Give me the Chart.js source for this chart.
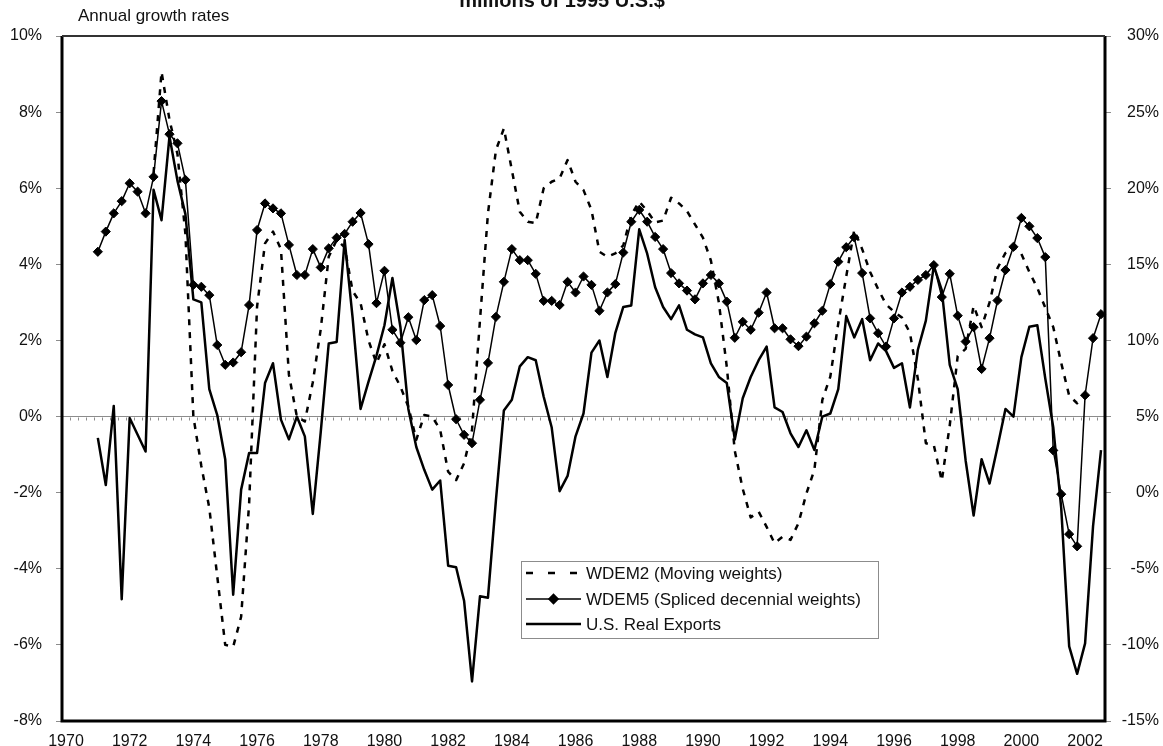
<!DOCTYPE html>
<html>
<head>
<meta charset="utf-8">
<script src="https://cdn.jsdelivr.net/npm/chart.js@4.4.1/dist/chart.umd.min.js"></script>
<style>
  html, body { margin: 0; padding: 0; background: #fff; }
</style>
</head>
<body>
<canvas id="growthChart" width="1163" height="746"></canvas>
<script>
// Quarterly categories, 1970 Q1 .. 2002 Q3
const quarters = [];
for (let y = 1970; y <= 2002; y++) {
    for (let q = 1; q <= 4; q++) {
        if (y === 2002 && q > 3) break;
        quarters.push(y + ' Q' + q);
    }
}

// WDEM2 (moving weights), annual growth %, left axis
const wdem2 = [
    null, null, null, null, null, null, null, null,          // 1970-71
    null, null, null, 6.4, 9.06, 7.8, 6.9, 4.8,              // 1972-73
    0.0, -1.3, -2.4, -4.2, -6.0, -6.05, -5.26, -2.3,         // 1974-75
    2.89, 4.55, 4.86, 4.4, 1.1, 0.0, -0.13, 0.9,             // 1976-77
    2.3, 4.2, 4.64, 4.45, 3.3, 2.98, 2.0, 1.4,               // 1978-79
    1.9, 1.2, 0.79, 0.26, -0.61, 0.04, 0.0, -0.35,           // 1980-81
    -1.45, -1.67, -1.23, -0.35, 2.54, 5.34, 7.0, 7.57,       // 1982-83
    6.48, 5.38, 5.12, 5.08, 6.0, 6.17, 6.26, 6.74,           // 1984-85
    6.17, 5.95, 5.43, 4.33, 4.2, 4.29, 4.5, 5.3,             // 1986-87
    5.65, 5.4, 5.1, 5.15, 5.75, 5.6, 5.4, 5.05,              // 1988-89
    4.7, 4.1, 3.0, 1.3, -0.9, -1.9, -2.65, -2.5,             // 1990-91
    -2.9, -3.33, -3.16, -3.24, -2.8, -2.02, -1.4, 0.44,      // 1992-93
    1.05, 2.45, 3.68, 4.9, 4.4, 3.8, 3.35, 2.95,             // 1994-95
    2.75, 2.6, 2.2, 0.98, -0.7, -0.75, -1.69, -0.23,         // 1996-97
    1.59, 1.78, 2.91, 2.35, 3.0, 3.9, 4.3, 4.46,             // 1998-99
    4.27, 3.8, 3.38, 2.86, 2.35, 1.41, 0.55, 0.35,           // 2000-01
    0.5, null, null                                          // 2002
];

// WDEM5 (spliced decennial weights), annual growth %, left axis
const wdem5 = [
    null, null, null, null, 4.33, 4.86, 5.34, 5.66,
    6.13, 5.91, 5.34, 6.30, 8.29, 7.42, 7.18, 6.22,
    3.46, 3.41, 3.19, 1.88, 1.36, 1.42, 1.69, 2.93,
    4.90, 5.60, 5.47, 5.34, 4.51, 3.72, 3.72, 4.40,
    3.92, 4.42, 4.70, 4.80, 5.12, 5.35, 4.53, 2.98,
    3.83, 2.28, 1.94, 2.61, 2.01, 3.06, 3.19, 2.38,
    0.83, -0.07, -0.48, -0.70, 0.44, 1.41, 2.62, 3.54,
    4.40, 4.11, 4.11, 3.75, 3.04, 3.04, 2.93, 3.54,
    3.26, 3.68, 3.46, 2.78, 3.26, 3.48, 4.31, 5.12,
    5.43, 5.12, 4.72, 4.40, 3.77, 3.50, 3.31, 3.08,
    3.50, 3.72, 3.50, 3.02, 2.07, 2.49, 2.28, 2.73,
    3.26, 2.32, 2.32, 2.03, 1.85, 2.10, 2.45, 2.78,
    3.48, 4.07, 4.45, 4.71, 3.77, 2.58, 2.19, 1.84,
    2.58, 3.26, 3.41, 3.59, 3.72, 3.98, 3.14, 3.75,
    2.65, 1.97, 2.35, 1.25, 2.06, 3.05, 3.85, 4.46,
    5.22, 5.00, 4.69, 4.19, -0.89, -2.04, -3.09, -3.41,
    0.56, 2.06, 2.69
];

// U.S. real exports, annual growth %, right axis
const usExports = [
    null, null, null, null, 3.6, 0.5, 5.7, -7.0,
    4.9, 3.8, 2.7, 19.9, 17.9, 23.4, 20.5, 18.3,
    12.7, 12.5, 6.8, 5.1, 2.2, -6.7, 0.2, 2.6,
    2.6, 7.2, 8.5, 4.8, 3.5, 5.0, 3.7, -1.4,
    4.0, 9.8, 9.9, 16.6, 11.5, 5.5, 7.3, 9.0,
    11.0, 14.1, 10.9, 5.5, 3.0, 1.5, 0.2, 0.8,
    -4.8, -4.9, -7.1, -12.4, -6.8, -6.9, -0.5, 5.4,
    6.1, 8.3, 8.9, 8.7, 6.3, 4.3, 0.1, 1.1,
    3.7, 5.2, 9.2, 10.0, 7.6, 10.5, 12.2, 12.3,
    17.3, 15.7, 13.5, 12.2, 11.4, 12.3, 10.7, 10.4,
    10.2, 8.5, 7.6, 7.2, 3.5, 6.2, 7.6, 8.7,
    9.6, 5.6, 5.3, 3.9, 3.0, 4.1, 2.8, 5.0,
    5.2, 6.8, 11.6, 10.2, 11.4, 8.7, 9.8, 9.3,
    8.2, 8.5, 5.6, 9.4, 11.3, 14.9, 13.3, 8.4,
    6.8, 2.1, -1.5, 2.2, 0.6, 3.0, 5.5, 5.0,
    8.9, 10.9, 11.0, 7.5, 4.3, -1.0, -10.1, -11.9,
    -9.9, -2.2, 2.8
];

const seriesLabels = ['WDEM2 (Moving weights)', 'WDEM5 (Spliced decennial weights)', 'U.S. Real Exports'];

const FONT = "'Liberation Sans', Arial, sans-serif";
const INK = '#111';

// frame, zero-line ticks, notes and the boxed legend
const decorations = {
    id: 'decorations',
    beforeDatasetsDraw(chart) {
        const { ctx, scales } = chart;
        const xs = scales.x;
        const y0 = Math.round(scales.y.getPixelForValue(0)) + 0.5;
        const half = (xs.getPixelForValue(1) - xs.getPixelForValue(0)) / 2;
        ctx.save();
        ctx.strokeStyle = '#8c8c8c';
        ctx.lineWidth = 1;
        ctx.beginPath();
        for (let i = 0; i <= quarters.length; i++) {
            const x = Math.round(xs.getPixelForValue(i) - half) + 0.5;
            ctx.moveTo(x, y0);
            ctx.lineTo(x, y0 + 3);
        }
        ctx.stroke();
        ctx.restore();
    },
    afterDatasetsDraw(chart) {
        const { ctx, chartArea: a } = chart;
        ctx.save();
        ctx.strokeStyle = '#000';
        ctx.lineWidth = 3;
        ctx.beginPath();
        ctx.moveTo(a.left, a.top);
        ctx.lineTo(a.left, a.bottom);
        ctx.lineTo(a.right, a.bottom);
        ctx.lineTo(a.right, a.top);
        ctx.stroke();
        ctx.strokeStyle = '#333';
        ctx.lineWidth = 2;
        ctx.beginPath();
        ctx.moveTo(a.left, a.top);
        ctx.lineTo(a.right, a.top);
        ctx.stroke();
        ctx.restore();
    },
    afterDraw(chart) {
        const { ctx, chartArea: a } = chart;
        ctx.save();
        ctx.fillStyle = INK;
        ctx.textBaseline = 'alphabetic';

        // cut-off title at the very top
        ctx.font = 'bold 20px ' + FONT;
        ctx.textAlign = 'center';
        ctx.fillText('millions of 1995 U.S.$', 562, 7);

        // left axis note
        ctx.font = '17px ' + FONT;
        ctx.textAlign = 'left';
        ctx.fillText('Annual growth rates', a.left + 16, 21);

        // legend box
        const box = { left: 521, top: 561, width: 357, height: 77 };
        ctx.fillStyle = '#fff';
        ctx.fillRect(box.left, box.top, box.width, box.height);
        ctx.strokeStyle = '#8c8c8c';
        ctx.lineWidth = 1;
        ctx.strokeRect(box.left + 0.5, box.top + 0.5, box.width, box.height);

        const rows = [573, 599, 624];
        const x0 = box.left + 5, x1 = box.left + 60;
        chart.data.datasets.forEach((ds, i) => {
            const y = rows[i];
            ctx.strokeStyle = '#000';
            ctx.lineWidth = ds.borderWidth;
            ctx.setLineDash(i === 0 ? [7, 15] : []);
            ctx.beginPath();
            ctx.moveTo(x0, y);
            ctx.lineTo(x1, y);
            ctx.stroke();
            ctx.setLineDash([]);
            if (ds.pointRadius > 0) {
                Chart.helpers.drawPoint(ctx, {
                    pointStyle: ds.pointStyle, radius: ds.pointRadius, borderWidth: 1
                }, (x0 + x1) / 2, y);
                ctx.fillStyle = '#000';
                ctx.fill();
            }
            ctx.fillStyle = INK;
            ctx.font = '17px ' + FONT;
            ctx.textAlign = 'left';
            ctx.textBaseline = 'middle';
            ctx.fillText(ds.label, x1 + 5, y + 1);
        });
        ctx.restore();
    }
};

const ctx = document.getElementById('growthChart').getContext('2d');
new Chart(ctx, {
    type: 'line',
    data: {
        labels: quarters,
        datasets: [
            {
                label: seriesLabels[0],
                data: wdem2,
                yAxisID: 'y',
                borderColor: '#000',
                borderWidth: 2.5,
                borderDash: [6, 7],
                pointRadius: 0,
                borderJoinStyle: 'round',
            },
            {
                label: seriesLabels[1],
                data: wdem5,
                yAxisID: 'y',
                borderColor: '#000',
                borderWidth: 1.5,
                pointStyle: 'rectRot',
                pointRadius: 4.6,
                pointBorderWidth: 1,
                pointBackgroundColor: '#000',
                pointBorderColor: '#000',
                borderJoinStyle: 'round',
            },
            {
                label: seriesLabels[2],
                data: usExports,
                yAxisID: 'y1',
                borderColor: '#000',
                borderWidth: 2.5,
                pointRadius: 0,
                borderJoinStyle: 'round',
            },
        ],
    },
    options: {
        responsive: false,
        animation: false,
        devicePixelRatio: 1,
        layout: { padding: { top: 36, right: 4, bottom: 0, left: 0 } },
        plugins: {
            legend: { display: false },
            tooltip: { enabled: false },
        },
        scales: {
            x: {
                type: 'category',
                offset: true,
                grid: { display: false },
                border: { display: false },
                ticks: {
                    autoSkip: false,
                    maxRotation: 0,
                    padding: 3,
                    color: INK,
                    font: { family: FONT, size: 16 },
                    callback: function (val, i) {
                        const lab = quarters[i];
                        const yr = +lab.slice(0, 4);
                        return lab.endsWith('Q1') && yr % 2 === 0 ? String(yr) : '';
                    },
                },
                afterFit: s => { s.height = 25; },
            },
            y: {
                position: 'left',
                min: -8,
                max: 10,
                ticks: {
                    stepSize: 2,
                    padding: 14,
                    color: INK,
                    font: { family: FONT, size: 16 },
                    callback: v => v + '%',
                },
                grid: {
                    color: c => (c.tick && c.tick.value === 0 ? '#8c8c8c' : 'rgba(0,0,0,0)'),
                    tickColor: '#8c8c8c',
                    tickLength: 6,
                    lineWidth: 1,
                },
                border: { display: false },
                afterFit: s => { s.width = 62; },
            },
            y1: {
                position: 'right',
                min: -15,
                max: 30,
                ticks: {
                    stepSize: 5,
                    padding: 10,
                    crossAlign: 'far',
                    color: INK,
                    font: { family: FONT, size: 16 },
                    callback: v => v + '%',
                },
                grid: {
                    drawOnChartArea: false,
                    tickColor: '#8c8c8c',
                    tickLength: 6,
                },
                border: { display: false },
                afterFit: s => { s.width = 54; },
            },
        },
    },
    plugins: [decorations],
});
</script>
</body>
</html>
